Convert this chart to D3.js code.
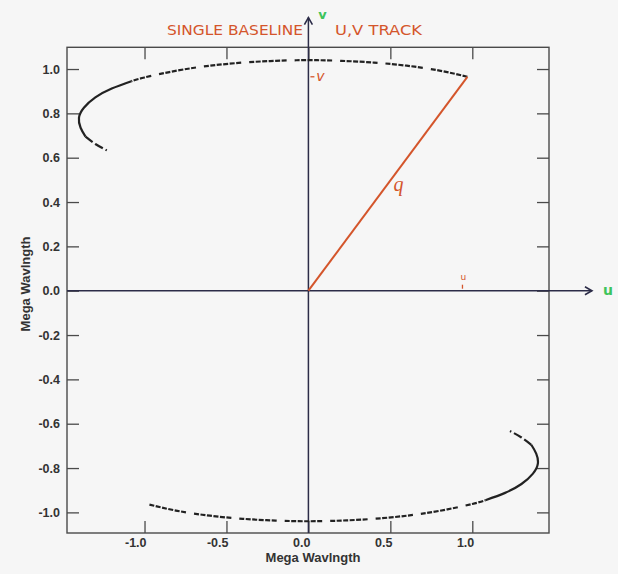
<!DOCTYPE html>
<meta charset="utf-8">
<style>
body { margin: 0; background: #f6f6f6; }
svg { display: block; }
.axis text { font-family: "Liberation Sans", Arial, sans-serif; font-weight: bold; font-size: 12.5px; fill: #333; }
.axis line { stroke: #4a4a4a; stroke-width: 1.3px; }
.axis path { display: none; }
.frame { fill: none; stroke: #4a4a4a; stroke-width: 1.4px; }
.track { fill: none; stroke: #222; stroke-width: 2.2px; }
.hand { font-family: "DejaVu Sans", sans-serif; fill: #d4552b; }
</style>
<svg width="618" height="574"></svg>
<script src="https://d3js.org/d3.v7.min.js"></script>
<script>
// tick labels
var xTicks = [-1.0, -0.5, 0.0, 0.5, 1.0];
var yTicks = [-1.0, -0.8, -0.6, -0.4, -0.2, 0.0, 0.2, 0.4, 0.6, 0.8, 1.0];

// upper u,v arc (mega wavelengths)
var upperDashed = [[0.97, 0.965], [0.8, 0.993], [0.6, 1.015], [0.4, 1.029], [0.2, 1.037], [0.0, 1.04],
  [-0.2, 1.037], [-0.4, 1.029], [-0.6, 1.015], [-0.8, 0.993], [-1.0, 0.962], [-1.08, 0.945]];
var upperSolid = [[-1.08, 0.945], [-1.2, 0.912], [-1.3, 0.872], [-1.37, 0.825], [-1.40, 0.78], [-1.39, 0.735], [-1.36, 0.695]];
var upperTail = [[-1.36, 0.695], [-1.30, 0.662], [-1.23, 0.633]];

// lower (conjugate) arc
var lowerDashed = [[-0.97, -0.965], [-0.8, -0.993], [-0.6, -1.015], [-0.4, -1.029], [-0.2, -1.037], [0.0, -1.04],
  [0.2, -1.037], [0.4, -1.029], [0.6, -1.015], [0.8, -0.993], [1.0, -0.962], [1.08, -0.945]];
var lowerSolid = [[1.08, -0.945], [1.2, -0.912], [1.3, -0.872], [1.37, -0.825], [1.40, -0.78], [1.39, -0.735], [1.36, -0.695]];
var lowerTail = [[1.36, -0.695], [1.30, -0.662], [1.23, -0.633]];

// baseline vector q and the hand drawn u,v axes
var baseline = [[0, 0], [0.97, 0.965]];
var uMark = 0.94, vMark = 0.965;
var axisEnd = {u: 1.73, v: 1.232};
var qLabel = [0.55, 0.465];

var svg = d3.select("svg"),
    mLeft = 67, mRight = 549, mTop = 47.3, mBottom = 533;

var x = d3.scaleLinear().domain([-1.473, 1.468]).range([mLeft, mRight]);
var y = d3.scaleLinear().domain([-1.093, 1.098]).range([mBottom, mTop]);

var fmt = function(d) { return d.toFixed(1); };

svg.append("rect").attr("class", "frame")
    .attr("x", mLeft).attr("y", mTop)
    .attr("width", mRight - mLeft).attr("height", mBottom - mTop);

// bottom axis, labels end at the tick
svg.append("g").attr("class", "axis")
    .attr("transform", "translate(0," + mBottom + ")")
    .call(d3.axisBottom(x).tickValues(xTicks).tickSizeInner(-12).tickSizeOuter(0).tickPadding(5).tickFormat(fmt))
  .selectAll("text")
    .attr("text-anchor", "end")
    .attr("dx", 1.5);
svg.append("g").attr("class", "axis")
    .attr("transform", "translate(0," + mTop + ")")
    .call(d3.axisTop(x).tickValues(xTicks).tickSizeInner(-12).tickSizeOuter(0).tickFormat(""));
svg.append("g").attr("class", "axis")
    .attr("transform", "translate(" + mLeft + ",0)")
    .call(d3.axisLeft(y).tickValues(yTicks).tickSizeInner(-12).tickSizeOuter(0).tickPadding(7).tickFormat(fmt));
svg.append("g").attr("class", "axis")
    .attr("transform", "translate(" + mRight + ",0)")
    .call(d3.axisRight(y).tickValues(yTicks).tickSizeInner(-12).tickSizeOuter(0).tickFormat(""));

svg.selectAll(".axis").attr("font-family", null).attr("font-size", null);

svg.append("text")
    .attr("x", 313).attr("y", 562)
    .attr("text-anchor", "middle")
    .style("font-family", "Liberation Sans, Arial, sans-serif")
    .style("font-weight", "bold").style("font-size", "13px").style("fill", "#333")
    .text("Mega Wavlngth");
svg.append("text")
    .attr("transform", "translate(30,284) rotate(-90)")
    .attr("text-anchor", "middle")
    .style("font-family", "Liberation Sans, Arial, sans-serif")
    .style("font-weight", "bold").style("font-size", "13px").style("fill", "#333")
    .text("Mega Wavlngth");

// hand drawn u and v axes
var ink = "#2c2c48";
svg.append("line")
    .attr("x1", x(0)).attr("x2", x(0))
    .attr("y1", mBottom).attr("y2", y(axisEnd.v))
    .attr("stroke", ink).attr("stroke-width", 1.5);
svg.append("line")
    .attr("x1", mLeft).attr("x2", x(axisEnd.u))
    .attr("y1", y(0)).attr("y2", y(0))
    .attr("stroke", ink).attr("stroke-width", 1.5);
svg.append("path")
    .attr("d", "M" + (x(0) - 4) + "," + (y(axisEnd.v) + 7) + "L" + x(0) + "," + y(axisEnd.v) + "L" + (x(0) + 4) + "," + (y(axisEnd.v) + 7))
    .attr("fill", "none").attr("stroke", ink).attr("stroke-width", 1.6);
svg.append("path")
    .attr("d", "M" + (x(axisEnd.u) - 7) + "," + (y(0) - 4) + "L" + x(axisEnd.u) + "," + y(0) + "L" + (x(axisEnd.u) - 7) + "," + (y(0) + 4))
    .attr("fill", "none").attr("stroke", ink).attr("stroke-width", 1.6);

svg.append("text")
    .attr("x", x(0) + 14).attr("y", y(axisEnd.v) + 1)
    .attr("text-anchor", "middle")
    .style("font-family", "DejaVu Sans, sans-serif").style("font-weight", "bold")
    .style("font-size", "13px").style("fill", "#3ec45c")
    .text("v");
svg.append("text")
    .attr("x", x(axisEnd.u) + 16).attr("y", y(0) + 4.5)
    .attr("text-anchor", "middle")
    .style("font-family", "DejaVu Sans, sans-serif").style("font-weight", "bold")
    .style("font-size", "14px").style("fill", "#3ec45c")
    .text("u");

// uv track
var line = d3.line()
    .x(function(d) { return x(d[0]); })
    .y(function(d) { return y(d[1]); })
    .curve(d3.curveNatural);

var dashed = "5,1.5,5,1.5,5,1.5,5,1.5,5,1.5,5,8";
[upperDashed, lowerDashed].forEach(function(seg) {
  svg.append("path").datum(seg).attr("class", "track").attr("d", line).attr("stroke-dasharray", dashed);
});
[upperSolid, lowerSolid].forEach(function(seg) {
  svg.append("path").datum(seg).attr("class", "track").attr("d", line);
});
[upperTail, lowerTail].forEach(function(seg) {
  svg.append("path").datum(seg).attr("class", "track").attr("d", line).attr("stroke-dasharray", "9,3");
});

// baseline vector
svg.append("path").datum(baseline)
    .attr("d", d3.line().x(function(d) { return x(d[0]); }).y(function(d) { return y(d[1]); }))
    .attr("fill", "none").attr("stroke", "#d4552b").attr("stroke-width", 2);

svg.append("text").attr("class", "hand")
    .attr("x", x(qLabel[0])).attr("y", y(qLabel[1]) + 3)
    .attr("text-anchor", "middle")
    .style("font-family", "Liberation Serif, serif").style("font-style", "italic")
    .style("font-size", "20px")
    .text("q");

// small u and v marks
svg.append("line")
    .attr("x1", x(0) + 2).attr("x2", x(0) + 6)
    .attr("y1", y(vMark)).attr("y2", y(vMark))
    .attr("stroke", "#d4552b").attr("stroke-width", 1.3);
svg.append("text").attr("class", "hand")
    .attr("x", x(0) + 12).attr("y", y(vMark) + 4)
    .attr("text-anchor", "middle")
    .style("font-size", "14px").style("font-style", "italic")
    .text("v");
svg.append("line")
    .attr("x1", x(uMark)).attr("x2", x(uMark))
    .attr("y1", y(0) - 6).attr("y2", y(0) - 2)
    .attr("stroke", "#d4552b").attr("stroke-width", 1.3);
svg.append("text").attr("class", "hand")
    .attr("x", x(uMark) + 1).attr("y", y(0) - 11)
    .attr("text-anchor", "middle")
    .style("font-size", "9px")
    .text("u");

// title
svg.append("text").attr("class", "hand")
    .attr("x", 167).attr("y", 35)
    .attr("textLength", 136).attr("lengthAdjust", "spacingAndGlyphs")
    .style("font-size", "14px")
    .text("SINGLE BASELINE");
svg.append("text").attr("class", "hand")
    .attr("x", 335).attr("y", 35)
    .attr("textLength", 87).attr("lengthAdjust", "spacingAndGlyphs")
    .style("font-size", "14px")
    .text("U,V TRACK");
</script>
